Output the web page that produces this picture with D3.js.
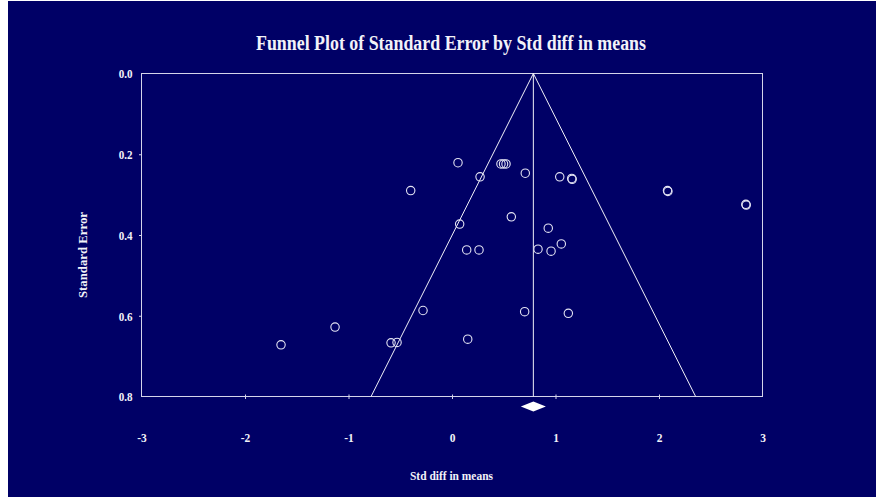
<!DOCTYPE html>
<html>
<head>
<meta charset="utf-8">
<script src="https://cdn.jsdelivr.net/npm/d3@7"></script>
<style>
  html, body { margin: 0; padding: 0; background: #ffffff; }
  svg { display: block; }
  text { font-family: "Liberation Serif", "Times New Roman", serif; font-weight: bold; fill: #f2f2f8; }
</style>
</head>
<body>
<svg id="chart" width="883" height="497"></svg>
<script>
// Study effect sizes (standardized mean differences) and their standard errors
const effects = [
  -1.652, -1.130, -0.589, -0.531, -0.280, 0.152, 0.702, 1.124,
  0.058, 0.271, 0.473, 0.498, 0.522, 0.708, 1.041, 1.157, 1.161,
  0.573, 0.074, 0.142, 0.261, 0.930, 0.831, 0.957, 1.056,
  2.082, 2.086, 2.839, 2.843, -0.399
];
const stdErrors = [
  0.672, 0.628, 0.667, 0.666, 0.587, 0.658, 0.590, 0.594,
  0.221, 0.256, 0.224, 0.224, 0.224, 0.247, 0.256, 0.260, 0.262,
  0.355, 0.373, 0.437, 0.437, 0.383, 0.435, 0.440, 0.422,
  0.290, 0.292, 0.324, 0.326, 0.290
];
// Combined estimate and its confidence interval
const pooled = [0.786];
const pooledCI = [0.665, 0.907];
const xTicks = [-3, -2, -1, 0, 1, 2, 3];
const xTickLabels = ["-3", "-2", "-1", "0", "1", "2", "3"];
const yTicks = [0.0, 0.2, 0.4, 0.6, 0.8];
const yTickLabels = ["0.0", "0.2", "0.4", "0.6", "0.8"];
const chartTitle = "Funnel Plot of Standard Error by Std diff in means";
const xTitle = "Std diff in means";
const yTitle = "Standard Error";

const svg = d3.select("#chart");
const W = 883, H = 497;
const bg = "#000066";
const lineCol = "#d4d4ea";
const markCol = "#e4e4f4";

svg.append("rect").attr("x", 8).attr("y", 1).attr("width", W - 15).attr("height", H - 1).attr("fill", bg);

const x = d3.scaleLinear().domain([-3, 3]).range([141.5, 762.5]);
const y = d3.scaleLinear().domain([0, 0.8]).range([73.5, 396.5]);

// Plot frame
svg.append("rect")
  .attr("x", x(-3)).attr("y", y(0))
  .attr("width", x(3) - x(-3)).attr("height", y(0.8) - y(0))
  .attr("fill", "none").attr("stroke", lineCol).attr("stroke-width", 1);

// Funnel (pseudo 95% limits) and the combined-effect line
const mean = pooled[0];
const seMax = 0.8;
svg.append("path")
  .attr("d", d3.line()([
    [x(mean - 1.96 * seMax), y(seMax)],
    [x(mean), y(0)],
    [x(mean + 1.96 * seMax), y(seMax)]
  ]))
  .attr("fill", "none").attr("stroke", "#f0f0f8").attr("stroke-width", 1);
svg.append("line")
  .attr("x1", x(mean)).attr("x2", x(mean))
  .attr("y1", y(0)).attr("y2", y(seMax))
  .attr("stroke", "#f0f0f8").attr("stroke-width", 1);

// Axis ticks and labels
const xAxis = d3.axisBottom(x).tickValues(xTicks).tickSize(0)
  .tickFormat((d, i) => xTickLabels[i]);
const gx = svg.append("g").attr("transform", `translate(0,${y(0.8)})`).call(xAxis);
gx.select(".domain").remove();
gx.selectAll(".tick text").attr("y", 45).attr("dy", null).attr("font-size", 13.5)
  .attr("font-family", null).attr("fill", "#f2f2f8");
gx.selectAll(".tick").filter(d => d > -3 && d < 3).append("line")
  .attr("y1", -2).attr("y2", 2.5).attr("stroke", lineCol);

const yAxis = d3.axisLeft(y).tickValues(yTicks).tickSize(0)
  .tickFormat((d, i) => yTickLabels[i]);
const gy = svg.append("g").attr("transform", `translate(${x(-3)},0)`).call(yAxis);
gy.select(".domain").remove();
gy.selectAll(".tick text").attr("x", -9).attr("dy", "0.33em").attr("font-size", 13)
  .attr("font-family", null).attr("fill", "#f2f2f8");
gy.selectAll(".tick").filter(d => d > 0 && d < 0.8).append("line")
  .attr("x1", -2.5).attr("x2", 0).attr("stroke", lineCol);

// Study markers
svg.append("g").selectAll("circle")
  .data(effects.map((e, i) => ({ e, se: stdErrors[i] })))
  .join("circle")
  .attr("cx", d => x(d.e)).attr("cy", d => y(d.se)).attr("r", 4.2)
  .attr("fill", "none").attr("stroke", markCol).attr("stroke-width", 1.1);

// Combined effect diamond
const dy0 = 406.5;
svg.append("path")
  .attr("d", d3.line()([
    [x(pooledCI[0]), dy0], [x(mean), dy0 - 5],
    [x(pooledCI[1]), dy0], [x(mean), dy0 + 5]
  ]) + "Z")
  .attr("fill", "#ffffff");

// Titles
svg.append("text").attr("x", 451).attr("y", 50).attr("text-anchor", "middle")
  .attr("font-size", 20).attr("textLength", 390).attr("lengthAdjust", "spacingAndGlyphs")
  .text(chartTitle);
svg.append("text").attr("x", 451.5).attr("y", 480).attr("text-anchor", "middle")
  .attr("font-size", 13).attr("textLength", 83).attr("lengthAdjust", "spacingAndGlyphs")
  .text(xTitle);
svg.append("text").attr("transform", "translate(87,255) rotate(-90)").attr("text-anchor", "middle")
  .attr("font-size", 13).attr("textLength", 86).attr("lengthAdjust", "spacingAndGlyphs")
  .text(yTitle);

// Narrow the tick labels slightly for a condensed look
svg.selectAll(".tick text").each(function () {
  const len = this.getComputedTextLength();
  d3.select(this).attr("textLength", len * 0.85).attr("lengthAdjust", "spacingAndGlyphs");
});
</script>
</body>
</html>
